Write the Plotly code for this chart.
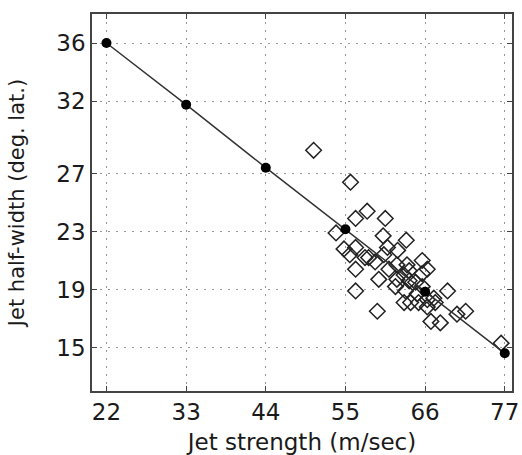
import plotly.graph_objects as go

# Fitted line (jet strength vs. half-width)
line_x = [22, 33, 44, 55, 66, 77]
line_y = [36.0, 31.75, 27.4, 23.15, 18.85, 14.6]

# Observed points (diamonds)
obs_x = [50.6, 55.7, 56.4, 58.0, 60.5, 53.7, 60.2, 63.4, 54.8, 56.4,
         60.8, 62.2, 55.6, 57.7, 58.2, 59.1, 60.3, 56.4, 61.0, 62.1,
         63.5, 63.8, 63.1, 65.6, 66.3, 65.6, 59.6, 61.9, 63.8, 63.3,
         56.4, 64.9, 65.6, 69.1, 63.1, 64.0, 65.1, 66.3, 67.2, 66.3,
         67.4, 59.4, 66.8, 68.1, 70.4, 71.6, 76.5, 62.1, 64.7]
obs_y = [28.6, 26.4, 23.9, 24.4, 23.9, 22.9, 22.7, 22.4, 21.8, 21.9,
         21.9, 21.7, 21.4, 21.2, 21.2, 20.9, 21.4, 20.4, 20.4, 20.7,
         20.7, 20.3, 20.0, 21.0, 20.4, 20.1, 19.7, 19.2, 19.6, 18.9,
         18.9, 18.7, 19.2, 18.9, 18.1, 18.1, 18.1, 18.3, 18.4, 17.8,
         18.1, 17.5, 16.8, 16.7, 17.3, 17.5, 15.3, 19.7, 19.5]

x_ticks = [22, 33, 44, 55, 66, 77]
y_ticks = [15, 19, 23, 27, 32, 36]

FONT = "DejaVu Sans, Liberation Sans, Arial, sans-serif"

fig = go.Figure()
fig.add_trace(go.Scatter(
    x=obs_x, y=obs_y, mode="markers",
    marker=dict(symbol="diamond-open", size=12, color="#222222",
                line=dict(width=1.5, color="#222222")),
    showlegend=False, cliponaxis=False))
fig.add_trace(go.Scatter(
    x=line_x, y=line_y, mode="lines+markers",
    line=dict(color="#333333", width=1.5),
    marker=dict(symbol="circle", size=10, color="black"),
    showlegend=False, cliponaxis=False))

axis_common = dict(
    showline=True, linecolor="#444444", linewidth=1.5, mirror="ticks",
    ticks="inside", ticklen=5, tickcolor="#444444",
    showgrid=True, gridcolor="#999999", gridwidth=1.2, griddash="2px,6px",
    zeroline=False, automargin=False,
    tickfont=dict(family=FONT, size=23, color="#1a1a1a"),
)

fig.update_xaxes(range=[20, 78], tickvals=x_ticks,
                 title=dict(text="Jet strength (m/sec)", standoff=16,
                            font=dict(family=FONT, size=23, color="#1a1a1a")),
                 **axis_common)
fig.update_yaxes(range=[12, 38], tickvals=y_ticks,
                 title=dict(text="Jet half-width (deg. lat.)", standoff=26,
                            font=dict(family=FONT, size=21, color="#1a1a1a")),
                 **axis_common)

fig.update_layout(
    width=522, height=455,
    margin=dict(l=92, r=10, t=14, b=64),
    plot_bgcolor="white", paper_bgcolor="white",
)

fig.write_html("out.html")
